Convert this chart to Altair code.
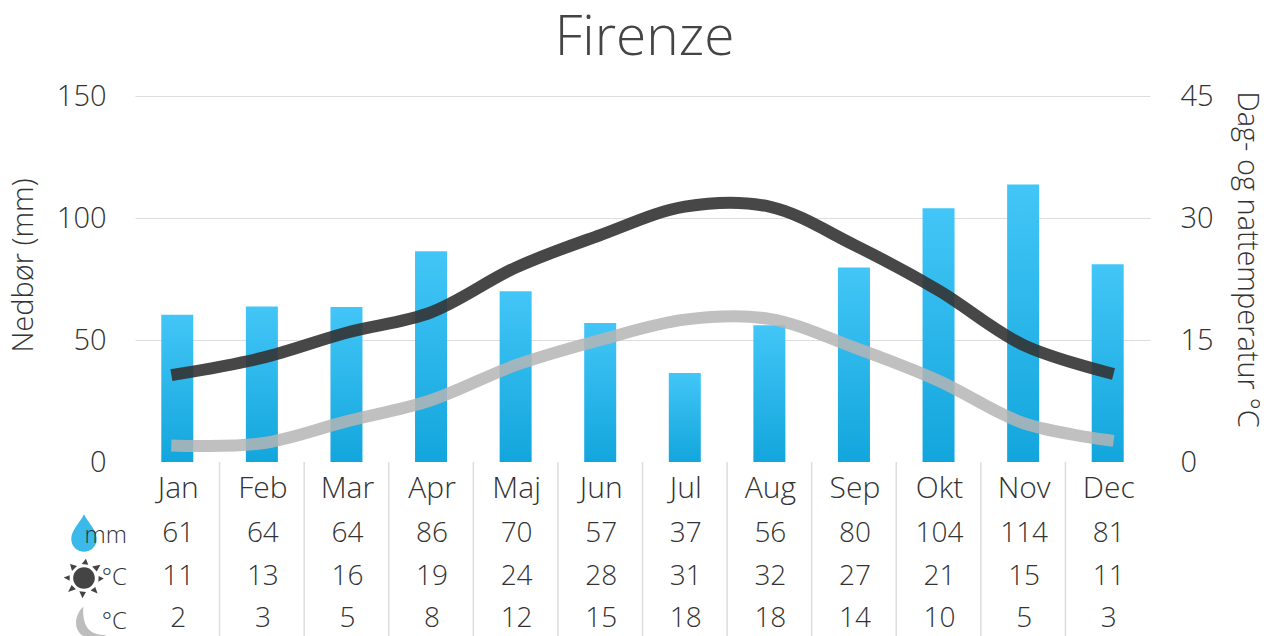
import altair as alt
import pandas as pd

months = ["Jan", "Feb", "Mar", "Apr", "Maj", "Jun", "Jul", "Aug", "Sep", "Okt", "Nov", "Dec"]
rain_bars = [60.3, 63.7, 63.5, 86.4, 70, 57, 36.5, 56, 79.7, 104, 113.7, 81]
day_line = [10.8, 12.8, 15.9, 18.4, 23.9, 27.9, 31.4, 31.4, 26.7, 21.1, 14.4, 11]
night_line = [2, 2.3, 5.0, 7.6, 11.9, 15, 17.5, 17.6, 14.1, 10, 4.8, 2.7]
rain_row = [61, 64, 64, 86, 70, 57, 37, 56, 80, 104, 114, 81]
day_row = [11, 13, 16, 19, 24, 28, 31, 32, 27, 21, 15, 11]
night_row = [2, 3, 5, 8, 12, 15, 18, 18, 14, 10, 5, 3]

FONT = "Open Sans"
TXT = "#333333"

df = pd.DataFrame(dict(m=months, rain=rain_bars, day=day_line, night=night_line,
                       r=rain_row, d=day_row, n=night_row))
X_SCALE = alt.Scale(type="band", domain=months, paddingInner=0, paddingOuter=0)
x_axis = alt.Axis(orient="bottom", labelAngle=0, labelFontSize=30, labelFont=FONT,
                  labelFontWeight=300, labelColor=TXT, labelPadding=11, labelOffset=1, ticks=False,
                  domain=False, grid=False, title=None)
x = alt.X("m:N", scale=X_SCALE, sort=months, title=None, axis=x_axis)

grad = alt.Gradient(gradient="linear", x1=0, x2=0, y1=0, y2=1,
                    stops=[alt.GradientStop(color="#3dc4f7", offset=0),
                           alt.GradientStop(color="#0ba3db", offset=1)])

bars = alt.Chart(df).mark_bar(color=grad, width=32, opacity=0.97).encode(
    x=x,
    y=alt.Y("rain:Q", scale=alt.Scale(domain=[0, 150], nice=False),
            axis=alt.Axis(orient="left", values=[0, 50, 100, 150], title="Nedbør (mm)",
                          labelFontSize=29, labelFont=FONT, labelFontWeight=300, labelColor=TXT,
                          labelPadding=29, ticks=False, domain=False, grid=True,
                          gridColor="#dddddd", gridWidth=1,
                          gridOpacity={"condition": {"test": "datum.value === 0", "value": 0}, "value": 1},
                          titleFont=FONT, titleFontWeight=300, titleFontSize=29, titleColor=TXT,
                          titleX=-97, titleY=169)),
)

y_temp = alt.Scale(domain=[0, 45], nice=False)
right_axis = alt.Axis(orient="right", values=[0, 15, 30, 45], title="Dag- og nattemperatur °C",
                      labelFontSize=29, labelFont=FONT, labelFontWeight=300, labelColor=TXT,
                      labelPadding=30, ticks=False, domain=False, grid=False,
                      titleFont=FONT, titleFontWeight=300, titleFontSize=29, titleColor=TXT,
                      titleX=81, titleY=163)
day = alt.Chart(df).mark_line(color="#333333", strokeWidth=12, opacity=0.9,
                              interpolate="catmull-rom", strokeCap="square").encode(
    x=x, y=alt.Y("day:Q", scale=y_temp, axis=right_axis))
night = alt.Chart(df).mark_line(color="#b5b5b5", strokeWidth=12, opacity=0.85,
                                interpolate="catmull-rom", strokeCap="square").encode(
    x=x, y=alt.Y("night:Q", scale=y_temp, axis=None))

seps = alt.Chart(df[df.m != "Dec"]).mark_rule(color="#dddddd", strokeWidth=1.5).encode(
    x=alt.X("m:N", scale=X_SCALE, sort=months, bandPosition=1, axis=x_axis),
    y=alt.value(366), y2=alt.value(540))


def row(field, ypx):
    return alt.Chart(df).mark_text(font=FONT, fontWeight=300, fontSize=28, color=TXT, baseline="middle", dx=1).encode(
        x=x, y=alt.value(ypx), text=alt.Text(f"{field}:Q"))


def unit(txt, ypx):
    return alt.Chart(pd.DataFrame({"t": [txt]})).mark_text(
        font=FONT, fontWeight=300, fontSize=24, color=TXT, align="right", baseline="middle"
    ).encode(x=alt.value(-8), y=alt.value(ypx), text="t:N")


def icon(path, color, xpx, ypx, size):
    return alt.Chart(pd.DataFrame({"i": [0]})).mark_point(
        shape=path, filled=True, fill=color, stroke=None, opacity=1, size=size, clip=False
    ).encode(x=alt.value(xpx), y=alt.value(ypx))


DROP = "M0,-1 C0.25,-0.5 0.68,-0.15 0.68,0.32 C0.68,0.72 0.36,1 0,1 C-0.36,1 -0.68,0.72 -0.68,0.32 C-0.68,-0.15 -0.25,-0.5 0,-1 Z"
SUN = ("M0.56,0 A0.56,0.56 0 1,1 -0.56,0 A0.56,0.56 0 1,1 0.56,0 Z "
       "M-0.12,-0.72 L0.1,-1 L0.22,-0.68 Z M0.42,-0.6 L0.85,-0.68 L0.66,-0.34 Z "
       "M0.76,-0.1 L1.02,0.02 L0.74,0.2 Z M0.58,0.46 L0.7,0.8 L0.34,0.64 Z "
       "M0.1,0.72 L-0.08,1.05 L-0.24,0.68 Z M-0.42,0.58 L-0.82,0.72 L-0.64,0.36 Z "
       "M-0.74,0.14 L-1.05,-0.02 L-0.74,-0.14 Z M-0.62,-0.36 L-0.72,-0.72 L-0.36,-0.62 Z")
MOON = "M-0.4,-0.95 C-1.0,-0.4 -1.05,0.55 -0.35,0.9 C0.1,1.12 0.65,1.05 1,0.8 C0.45,0.85 -0.1,0.65 -0.3,0.1 C-0.42,-0.3 -0.45,-0.65 -0.4,-0.95 Z"

chart = alt.layer(
    seps, bars, day, night,
    row("r", 438), row("d", 481), row("n", 523),
    icon(DROP, "#3bb9ea", -51, 437, 1400),
    unit("mm", 440), unit("°C", 482), unit("°C", 526),
    icon(SUN, "#444444", -51, 482, 1500),
    icon(MOON, "#bdbdbd", -45, 526, 1050),
).resolve_scale(y="independent").properties(
    width=1015, height=366,
    title=alt.TitleParams("Firenze", font=FONT, fontWeight=300, fontSize=55, color="#444444",
                          anchor="middle", dx=2, offset=15),
    autosize=alt.AutoSizeParams(type="none"),
    padding={"left": 127, "top": 88, "right": 110, "bottom": 174},
    background="white",
).configure_view(stroke=None)

chart.save("out.html", embed_options={"renderer": "svg", "actions": False})
